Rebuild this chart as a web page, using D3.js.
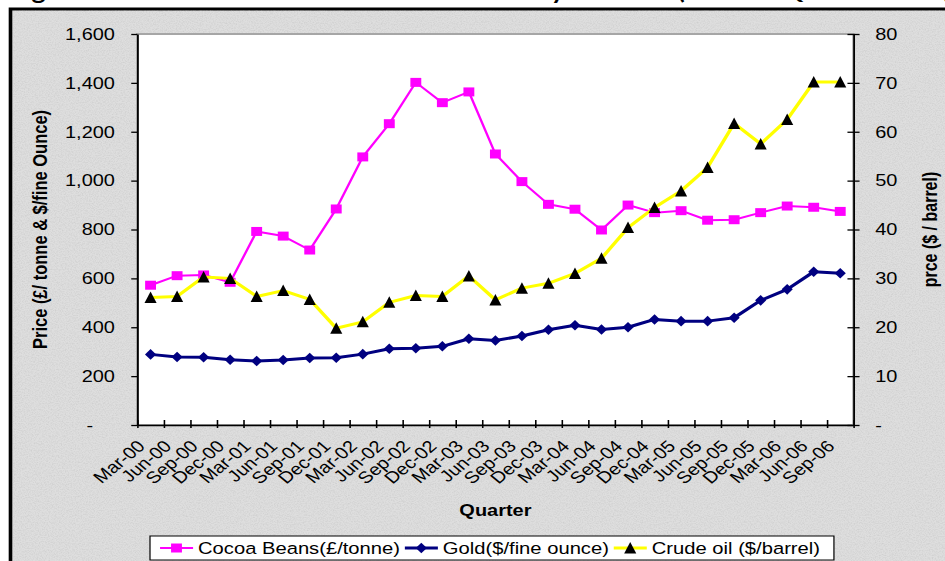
<!DOCTYPE html>
<html>
<head>
<meta charset="utf-8">
<script src="https://cdn.jsdelivr.net/npm/d3@7/dist/d3.min.js"></script>
<style>
  html, body { margin: 0; padding: 0; background: #fff; }
  svg { display: block; }
  text { font-family: "Liberation Sans", Arial, sans-serif; fill: #000; }
</style>
</head>
<body>
<svg id="chart" width="945" height="561"></svg>
<script>
// Quarterly commodity prices, Mar-00 to Sep-06
const quarters = ["Mar-00","Jun-00","Sep-00","Dec-00","Mar-01","Jun-01","Sep-01","Dec-01",
  "Mar-02","Jun-02","Sep-02","Dec-02","Mar-03","Jun-03","Sep-03","Dec-03",
  "Mar-04","Jun-04","Sep-04","Dec-04","Mar-05","Jun-05","Sep-05","Dec-05",
  "Mar-06","Jun-06","Sep-06"];

// Cocoa beans, £ per tonne (left axis)
const cocoa = [572, 611, 614, 584, 792, 773, 716, 884, 1097, 1233, 1402, 1319, 1363, 1109,
  996, 903, 883, 798, 900, 869, 877, 838, 840, 869, 896, 891, 874];

// Gold, $ per fine ounce (left axis)
const gold = [289, 278, 277, 267, 262, 266, 274, 275, 290, 312, 314, 322, 353, 346,
  364, 390, 408, 391, 400, 432, 425, 425, 439, 510, 555, 627, 621];

// Crude oil, $ per barrel (right axis)
const crude = [26.1, 26.3, 30.3, 30.0, 26.3, 27.5, 25.7, 19.8, 21.1, 25.1, 26.5, 26.3, 30.5, 25.6,
  28.0, 29.0, 31.0, 34.1, 40.4, 44.5, 47.9, 52.7, 61.7, 57.5, 62.5, 70.2, 70.2];

const leftTicks = [0, 200, 400, 600, 800, 1000, 1200, 1400, 1600];
const rightTicks = [0, 10, 20, 30, 40, 50, 60, 70, 80];

const seriesInfo = [
  { name: "Cocoa Beans(£/tonne)", values: cocoa, axis: "left", color: "#ff00ff", width: 2, marker: "square", fill: "#ff00ff" },
  { name: "Gold($/fine ounce)", values: gold, axis: "left", color: "#000080", width: 3, marker: "diamond", fill: "#000080" },
  { name: "Crude oil ($/barrel)", values: crude, axis: "right", color: "#ffff00", width: 3, marker: "triangle", fill: "#000000" }
];

// The whole drawing is widened horizontally by this factor
const SX = 1.21;
const W = 945 / SX, H = 561;

const svg = d3.select("#chart");
const defs = svg.append("defs");
const grain = defs.append("filter").attr("id", "grain")
  .attr("x", 0).attr("y", 0).attr("width", "100%").attr("height", "100%");
grain.append("feTurbulence").attr("type", "fractalNoise").attr("baseFrequency", 0.85)
  .attr("numOctaves", 2).attr("seed", 7).attr("result", "n");
grain.append("feColorMatrix").attr("in", "n").attr("type", "matrix")
  .attr("values", "0 0 0 0 0.45  0 0 0 0 0.45  0 0 0 0 0.45  1.3 0 0 0 -0.5");

const root = svg.append("g").attr("transform", `scale(${SX},1)`);

// Heading line, running off the top edge
const heading = root.append("text").attr("y", -1.5)
  .style("font-family", "Lato, 'Open Sans', sans-serif").style("font-weight", "bold").style("font-size", "22px");
heading.append("tspan").attr("x", 8).text("Figure 1: Cocoa Gold and Crude Oil Prices");
heading.append("tspan").attr("x", 443).text("by Period");
heading.append("tspan").attr("x", 560).text("(2000 –");
heading.append("tspan").attr("x", 646).text("Q3 2006");
heading.append("tspan").attr("x", 778).text("(£ and $)");

// Chart panel
const panelX = 10.5 / SX, panelY = 9;
root.append("rect").attr("x", panelX).attr("y", panelY)
  .attr("width", W - panelX + 20).attr("height", H - panelY + 20)
  .attr("fill", "#dedede").attr("stroke", "#000").attr("stroke-width", 3);
root.append("rect").attr("x", panelX + 1.5).attr("y", panelY + 1.5)
  .attr("width", W - panelX).attr("height", H - panelY)
  .attr("filter", "url(#grain)").attr("opacity", 0.55);

// Plot geometry
const plotL = 137.3 / SX, plotR = 853.5 / SX, plotT = 34, plotB = 425;

const x = d3.scaleBand().domain(quarters).range([plotL, plotR]).padding(0);
const xEdge = d3.scaleLinear().domain([0, quarters.length]).range([plotL, plotR]);
const yL = d3.scaleLinear().domain([0, 1600]).range([plotB, plotT]);
const yR = d3.scaleLinear().domain([0, 80]).range([plotB, plotT]);
const cx = q => x(q) + x.bandwidth() / 2;

root.append("rect").attr("x", plotL).attr("y", plotT)
  .attr("width", plotR - plotL).attr("height", plotB - plotT)
  .attr("fill", "#fff").attr("stroke", "#a6a6a6").attr("stroke-width", 2);

const fmtL = v => v === 0 ? "-" : d3.format(",")(v);

// Left axis
const axL = root.append("g").attr("transform", `translate(${plotL},0)`)
  .call(d3.axisLeft(yL).tickValues(leftTicks).tickFormat(fmtL).tickSizeOuter(0).tickSizeInner(5).tickPadding(13.5));
axL.select(".domain").attr("stroke", "#000").attr("stroke-width", 1.5);
axL.selectAll(".tick line").attr("stroke", "#000").attr("stroke-width", 1.3);
axL.selectAll(".tick text").style("font-size", "16.5px").attr("fill", "#000")
  .attr("dx", d => d === 0 ? -18 : 0);

// Right axis
const axR = root.append("g").attr("transform", `translate(${plotR},0)`)
  .call(d3.axisRight(yR).tickValues(rightTicks).tickFormat(v => v === 0 ? "-" : v).tickSizeOuter(0).tickSizeInner(5).tickPadding(13));
axR.select(".domain").attr("stroke", "#000").attr("stroke-width", 1.5);
axR.selectAll(".tick line").attr("stroke", "#000").attr("stroke-width", 1.3).attr("x1", -5);
axR.selectAll(".tick text").style("font-size", "16.5px").attr("fill", "#000");

// Bottom axis: tick marks on category boundaries
const axB = root.append("g").attr("transform", `translate(0,${plotB})`)
  .call(d3.axisBottom(xEdge).tickValues(d3.range(0, quarters.length + 1)).tickFormat("").tickSizeOuter(0).tickSizeInner(3));
axB.select(".domain").attr("stroke", "#000").attr("stroke-width", 1.5);
axB.selectAll(".tick line").attr("stroke", "#000").attr("stroke-width", 1.3).attr("y1", -5);

// Category labels
root.append("g").selectAll("text").data(quarters).join("text")
  .attr("text-anchor", "end")
  .attr("transform", d => `translate(${cx(d) - 12},${plotB + 14}) rotate(-45)`)
  .attr("dy", "0.71em")
  .style("font-size", "16.5px")
  .text(d => d);

// Axis titles
root.append("text")
  .attr("transform", `translate(${40 / SX},${(plotT + plotB) / 2}) rotate(-90)`)
  .attr("text-anchor", "middle").attr("dy", "0.36em")
  .style("font-size", "16.5px").style("font-weight", "bold")
  .text("Price (£/ tonne & $/fine Ounce)");
root.append("text")
  .attr("transform", `translate(${930 / SX},${(plotT + plotB) / 2}) rotate(-90)`)
  .attr("text-anchor", "middle").attr("dy", "0.36em")
  .style("font-size", "16px").style("font-weight", "bold")
  .text("prce ($ / barrel)");
root.append("text")
  .attr("x", (plotL + plotR) / 2).attr("y", 516)
  .attr("text-anchor", "middle")
  .style("font-size", "16.5px").style("font-weight", "bold")
  .text("Quarter");

// Marker shapes
const markerPath = {
  square: "M-4.5,-4.5H4.5V4.5H-4.5Z",
  diamond: "M0,-5.3L4.6,0L0,5.3L-4.6,0Z",
  triangle: "M0,-6L5,5.5L-5,5.5Z"
};

// Series lines and markers
seriesInfo.forEach(s => {
  const ys = s.axis === "left" ? yL : yR;
  const line = d3.line().x((d, i) => cx(quarters[i])).y(d => ys(d));
  const g = root.append("g");
  g.append("path").datum(s.values).attr("d", line)
    .attr("fill", "none").attr("stroke", s.color).attr("stroke-width", s.width)
    .attr("stroke-linejoin", "round");
  g.selectAll("path.m").data(s.values).join("path").attr("class", "m")
    .attr("transform", (d, i) => `translate(${cx(quarters[i])},${ys(d)})`)
    .attr("d", markerPath[s.marker]).attr("fill", s.fill);
});

// Legend
const legX = 150 / SX, legY = 536, legH = 24;
const leg = root.append("g");
const legBox = leg.append("rect").attr("x", legX).attr("y", legY).attr("height", legH)
  .attr("fill", "#fff").attr("stroke", "#000").attr("stroke-width", 1);
let cursor = legX + 8.3;
const midY = legY + legH / 2;
seriesInfo.forEach(s => {
  leg.append("line").attr("x1", cursor).attr("x2", cursor + 27.3)
    .attr("y1", midY).attr("y2", midY)
    .attr("stroke", s.color).attr("stroke-width", s.width);
  leg.append("path").attr("transform", `translate(${cursor + 13.6},${midY})`)
    .attr("d", markerPath[s.marker]).attr("fill", s.fill);
  cursor += 27.3 + 4.1;
  const t = leg.append("text").attr("x", cursor).attr("y", midY).attr("dy", "0.36em")
    .style("font-size", "16.7px").text(s.name);
  cursor += t.node().getComputedTextLength() + 4;
});
legBox.attr("width", cursor - legX + 7.5);
</script>
</body>
</html>
